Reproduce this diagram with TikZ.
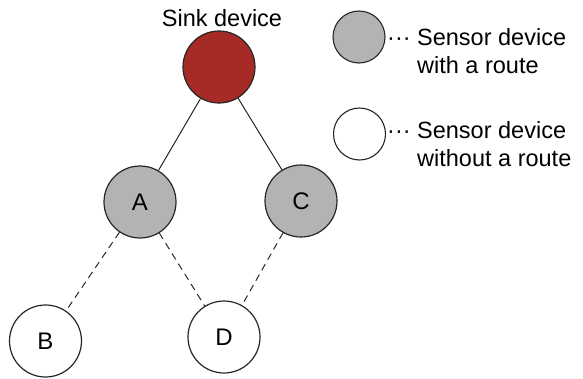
\documentclass[tikz,border=0pt]{standalone}
\usepackage{fontspec}
\setmainfont{Liberation Sans}
\begin{document}
\begin{tikzpicture}[x=1pt,y=-1pt,
  dev/.style={circle,draw=black!85,line width=1.2pt,minimum size=72pt,inner sep=0pt,font=\fontsize{24}{28}\selectfont},
  leg/.style={circle,draw=black!85,line width=1.1pt,minimum size=52pt,inner sep=0pt},
  lbl/.style={inner sep=0pt,font=\fontsize{23.5}{28.5}\selectfont,align=left},
  link/.style={line width=1pt,black!85},
  dlink/.style={line width=1pt,black!85,dash pattern=on 7pt off 5pt}]
\definecolor{sinkred}{RGB}{166,42,38}
\definecolor{routegray}{RGB}{178,180,178}
\useasboundingbox (0,0) rectangle (583,378);
\node[dev,fill=sinkred] (sink) at (219,67) {};
\node[inner sep=0pt,font=\fontsize{23.5}{28}\selectfont,anchor=base] (sinklbl) at (222,26) {Sink device};
\node[dev,fill=routegray] (A) at (140,202) {A};
\node[dev,fill=routegray] (C) at (301,201) {C};
\node[dev,fill=white] (B) at (45.5,341) {B};
\node[dev,fill=white] (D) at (224,337) {D};
\draw[link] (sink) -- (A);
\draw[link] (sink) -- (C);
\draw[dlink] (A) -- (B);
\draw[dlink] (A) -- (D);
\draw[dlink] (C) -- (D);
\node[leg,fill=routegray] (lg1) at (359,37) {};
\node[leg,fill=white] (lg2) at (359.5,134) {};
\node[lbl,anchor=base west] (t1) at (417,73.5) {\llap{···\ }Sensor device\\with a route};
\node[lbl,anchor=base west] (t2) at (417,166.5) {\llap{···\ }Sensor device\\without a route};
\end{tikzpicture}
\end{document}
